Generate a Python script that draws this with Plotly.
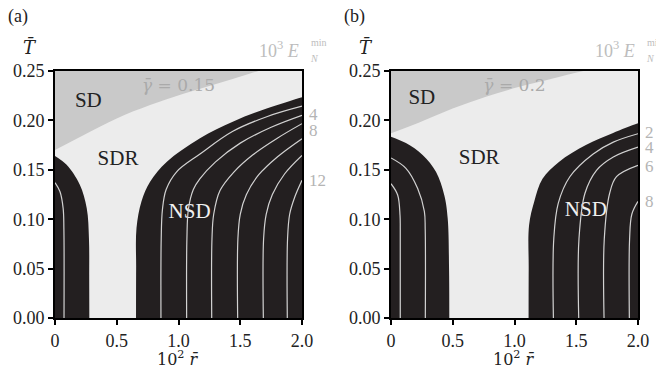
import plotly.graph_objects as go

# ---------------- data ----------------
# panel (a): gamma = 0.15
A_SD_R = [0, 0.23, 0.5, 0.77, 1.04, 1.31, 1.58, 1.85, 2.1]
A_SD_T = [0.170, 0.185, 0.202, 0.2155, 0.227, 0.237, 0.2475, 0.257, 0.266]
A_LB_R = [0, 0.094, 0.2, 0.257, 0.275, 0.277, 0.278]
A_LB_T = [0.164, 0.155, 0.135, 0.111, 0.08, 0.04, 0]
A_RB_R = [0.656, 0.657, 0.66, 0.70, 0.77, 0.904, 1.174, 1.444, 1.714, 2.0, 2.1]
A_RB_T = [0, 0.05, 0.091, 0.118, 0.138, 0.158, 0.182, 0.199, 0.212, 0.2235, 0.227]
A_LINES = [
    ([0.073, 0.072, 0.066, 0.04, 0.0], [0, 0.09, 0.111, 0.128, 0.137]),
    ([0.858, 0.86, 0.87, 0.90, 0.985, 1.174, 1.44, 1.72, 2.0],
     [0, 0.08, 0.11, 0.13, 0.148, 0.166, 0.189, 0.204, 0.2144]),
    ([1.066, 1.068, 1.08, 1.12, 1.174, 1.3, 1.5, 1.75, 2.0],
     [0, 0.08, 0.11, 0.13, 0.141, 0.158, 0.177, 0.193, 0.2051]),
    ([1.269, 1.271, 1.285, 1.336, 1.45, 1.6, 1.8, 2.0],
     [0, 0.08, 0.105, 0.129, 0.148, 0.165, 0.182, 0.1967]),
    ([1.479, 1.481, 1.50, 1.55, 1.65, 1.8, 2.0],
     [0, 0.08, 0.105, 0.125, 0.145, 0.163, 0.1815]),
    ([1.687, 1.689, 1.71, 1.76, 1.86, 2.0], [0, 0.08, 0.105, 0.125, 0.146, 0.1646]),
    ([1.881, 1.883, 1.90, 1.94, 2.0], [0, 0.08, 0.105, 0.122, 0.1394]),
]
A_LBL = ["4", "8", "12"]
A_LBL_T = [0.206, 0.19, 0.1387]

# panel (b): gamma = 0.2
B_SD_R = [0, 0.229, 0.499, 0.769, 1.04, 1.31, 1.47, 1.75, 2.1]
B_SD_T = [0.187, 0.198, 0.212, 0.224, 0.234, 0.2424, 0.2475, 0.255, 0.263]
B_LB_R = [0, 0.121, 0.256, 0.364, 0.431, 0.459, 0.47, 0.472]
B_LB_T = [0.1835, 0.177, 0.165, 0.148, 0.1245, 0.101, 0.05, 0]
B_RB_R = [1.114, 1.115, 1.118, 1.16, 1.227, 1.36, 1.578, 1.794, 2.0, 2.1]
B_RB_T = [0, 0.05, 0.094, 0.118, 0.141, 0.158, 0.175, 0.187, 0.197, 0.201]
B_LINES = [
    ([0.278, 0.277, 0.27, 0.216, 0.121, 0], [0, 0.09, 0.108, 0.131, 0.1515, 0.162]),
    ([0.075, 0.075, 0.073, 0.054, 0], [0, 0.09, 0.104, 0.1245, 0.136]),
    ([1.315, 1.318, 1.354, 1.448, 1.637, 1.80, 2.0],
     [0, 0.08, 0.116, 0.143, 0.166, 0.178, 0.1865]),
    ([1.52, 1.522, 1.57, 1.664, 1.80, 2.0], [0, 0.08, 0.126, 0.1495, 0.163, 0.173]),
    ([1.725, 1.727, 1.77, 1.826, 2.0], [0, 0.08, 0.126, 0.143, 0.1545]),
    ([1.93, 1.932, 1.95, 2.0], [0, 0.08, 0.105, 0.118]),
]
B_LBL = ["2", "4", "6", "8"]
B_LBL_T = [0.188, 0.173, 0.153, 0.1175]

X_TICKS = [0, 0.5, 1.0, 1.5, 2.0]
X_TICKTEXT = ["0", "0.5", "1.0", "1.5", "2.0"]
Y_TICKS = [0, 0.05, 0.10, 0.15, 0.20, 0.25]

# ---------------- styles ----------------
BLACK = "#231f20"
SDR_C = "#ececec"
SD_C = "#c9c9c9"
LINE_C = "#d2d2d2"
LABEL_C = "#b4b4b4"
FONT = "Liberation Serif"
MARK_FONT = "DejaVu Serif"   # has the combining macron

fig = go.Figure()


def add_panel(xa, ya, sd_r, sd_t, lb_r, lb_t, rb_r, rb_t, lines, gamma, pos):
    # SD is the background colour; SDR fills below the SD boundary
    fig.add_trace(go.Scatter(x=sd_r, y=sd_t, mode="lines", fill="tozeroy",
                             fillcolor=SDR_C, line=dict(width=0, shape="spline", color=SDR_C),
                             xaxis=xa, yaxis=ya, hoverinfo="skip"))
    for rr, tt in [(lb_r, lb_t), (rb_r, rb_t)]:
        fig.add_trace(go.Scatter(x=rr, y=tt, mode="lines", fill="tozeroy",
                                 fillcolor=BLACK, line=dict(width=0, shape="spline", color=BLACK),
                                 xaxis=xa, yaxis=ya, hoverinfo="skip"))
    # NSD drawn under the contour lines
    fig.add_trace(go.Scatter(x=[pos["NSD"][0]], y=[pos["NSD"][1]], mode="text", text=["NSD"],
                             textfont=dict(family=FONT, size=21, color="#f0f0f0"),
                             xaxis=xa, yaxis=ya, hoverinfo="skip"))
    for rr, tt in lines:
        fig.add_trace(go.Scatter(x=rr, y=tt, mode="lines",
                                 line=dict(width=1.2, shape="spline", color=LINE_C),
                                 xaxis=xa, yaxis=ya, hoverinfo="skip"))
    fig.add_trace(go.Scatter(x=[pos["SD"][0], pos["SDR"][0]], y=[pos["SD"][1], pos["SDR"][1]],
                             mode="text", text=["SD", "SDR"],
                             textfont=dict(family=FONT, size=21, color="#222222"),
                             xaxis=xa, yaxis=ya, hoverinfo="skip"))
    fig.add_trace(go.Scatter(x=[pos["g"][0]], y=[pos["g"][1]], mode="text",
                             text=["<i>γ̄</i> = " + gamma],
                             textfont=dict(family=MARK_FONT, size=17, color="#aaaaaa"),
                             xaxis=xa, yaxis=ya, hoverinfo="skip"))


add_panel("x", "y", A_SD_R, A_SD_T, A_LB_R, A_LB_T, A_RB_R, A_RB_T, A_LINES, "0.15",
          {"SD": (0.27, 0.219), "SDR": (0.51, 0.16), "NSD": (1.09, 0.107), "g": (1.0, 0.234)})
add_panel("x2", "y2", B_SD_R, B_SD_T, B_LB_R, B_LB_T, B_RB_R, B_RB_T, B_LINES, "0.2",
          {"SD": (0.25, 0.222), "SDR": (0.714, 0.1615), "NSD": (1.578, 0.109), "g": (1.0, 0.234)})

ax_common = dict(showgrid=False, zeroline=False, showline=True, linecolor="black",
                 linewidth=2, mirror=True, ticks="outside", ticklen=5, tickwidth=1.5,
                 tickcolor="black", tickfont=dict(family=FONT, size=18, color="#222222"))
Y_DOM = [1 - 318 / 379, 1 - 71 / 379]

fig.update_layout(
    width=656, height=379, margin=dict(l=0, r=0, t=0, b=0, autoexpand=False),
    paper_bgcolor="white", plot_bgcolor=SD_C, showlegend=False,
    xaxis=dict(domain=[55 / 656, 302 / 656], range=[0, 2.0], tickvals=X_TICKS,
               ticktext=X_TICKTEXT, anchor="y", ticklabelstandoff=0, **ax_common),
    yaxis=dict(domain=Y_DOM, range=[0, 0.25], tickvals=Y_TICKS, tickformat=".2f",
               anchor="x", **ax_common),
    xaxis2=dict(domain=[391 / 656, 638 / 656], range=[0, 2.0], tickvals=X_TICKS,
                ticktext=X_TICKTEXT, anchor="y2", ticklabelstandoff=0, **ax_common),
    yaxis2=dict(domain=Y_DOM, range=[0, 0.25], tickvals=Y_TICKS, tickformat=".2f",
                anchor="x2", **ax_common),
)

ann = []
for xd, yd, lbls, lts in [("x domain", "y", A_LBL, A_LBL_T), ("x2 domain", "y2", B_LBL, B_LBL_T)]:
    for s, t in zip(lbls, lts):
        ann.append(dict(x=1.02, y=t, xref=xd, yref=yd, text=s, showarrow=False,
                        xanchor="left", yanchor="middle",
                        font=dict(family=FONT, size=17, color=LABEL_C)))


def label(px, py, text, size, color="#222222", family=FONT, xanchor="center"):
    ann.append(dict(x=px / 656, y=1 - py / 379, xref="paper", yref="paper", text=text,
                    showarrow=False, xanchor=xanchor, yanchor="middle",
                    font=dict(family=family, size=size, color=color)))


for x0, tag in [(0, "(a)"), (336, "(b)")]:
    label(x0 + 6, 17, tag, 18, xanchor="left")
    label(x0 + 30, 47, "<i>T̄</i>", 18, family=MARK_FONT)
    label(x0 + 178, 358, "10<sup>2</sup> <i>r̄</i>", 16, family=MARK_FONT)
    label(x0 + 257, 50, "10<sup>3</sup> <i>E</i>", 18, color="#bdbdbd", xanchor="left")
    label(x0 + 309, 42, "min", 10, color="#bdbdbd", xanchor="left")
    label(x0 + 308, 59, "<i>N</i>", 10, color="#bdbdbd", xanchor="left")

fig.update_layout(annotations=ann)
# the page's default body margin would shift the figure by 8 px
fig.write_html("out.html", config={"displayModeBar": False},
               post_script="document.body.style.margin = '0';")
